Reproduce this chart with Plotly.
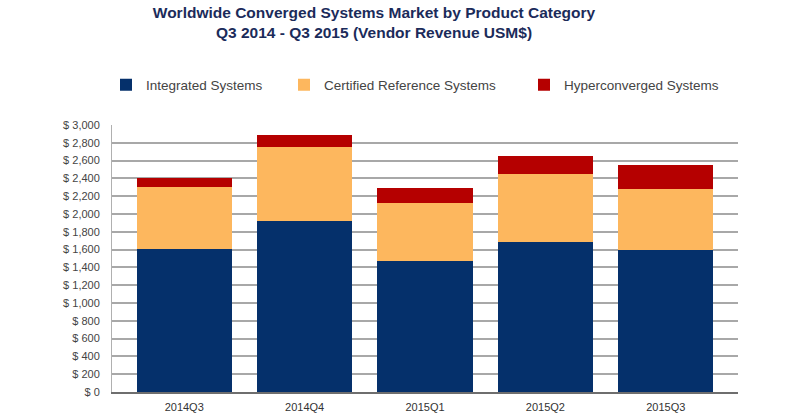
import plotly.graph_objects as go

quarters = ["2014Q3", "2014Q4", "2015Q1", "2015Q2", "2015Q3"]
integrated = [1611, 1918, 1472, 1685, 1592]
certified = [692, 831, 656, 769, 689]
hyper = [106, 135, 161, 194, 274]
series_names = ["Integrated Systems", "Certified Reference Systems", "Hyperconverged Systems"]
colors = ["#05306b", "#fdb75e", "#b50000"]
y_ticks = list(range(0, 3001, 200))
y_tick_text = ["$ " + f"{v:,}" for v in y_ticks]

W, H = 800, 417
FONT = "Liberation Sans, Arial, sans-serif"

fig = go.Figure()
legend_ids = ["legend", "legend2", "legend3"]
for vals, name, col, lg in zip([integrated, certified, hyper], series_names, colors, legend_ids):
    fig.add_trace(go.Bar(x=quarters, y=vals, name=name, marker=dict(color=col, line=dict(width=0)),
                         legend=lg, showlegend=True))

legend_x = [106, 284, 524]
leg_common = dict(orientation="h", xref="container", yref="container", yanchor="middle",
                  xanchor="left", y=1 - 85 / H, font=dict(family=FONT, size=13.5, color="#444444"),
                  bgcolor="rgba(0,0,0,0)", borderwidth=0)

fig.update_layout(
    width=W, height=H,
    showlegend=True,
    margin=dict(l=112, r=62, t=125, b=25, autoexpand=False),
    paper_bgcolor="white", plot_bgcolor="white",
    barmode="stack", bargap=0.21,
    title=dict(text="Worldwide Converged Systems Market by Product Category<br>Q3 2014 - Q3 2015 (Vendor Revenue USM$)",
               x=374 / W, xanchor="center", xref="container", yref="container",
               y=1 - 18 / H, yanchor="middle",
               font=dict(family=FONT, size=15.5, color="#1b2b5a", weight="bold")),
    legend=dict(x=legend_x[0] / W, **leg_common),
    legend2=dict(x=legend_x[1] / W, **leg_common),
    legend3=dict(x=legend_x[2] / W, **leg_common),
    xaxis=dict(range=[-0.6, 4.6], showgrid=False, showline=True, linecolor="#6e6e6e", linewidth=2,
               tickfont=dict(family=FONT, size=11, color="#333333"), ticks="", ticklabelstandoff=4),
    yaxis=dict(range=[0, 3000], tickmode="array", tickvals=y_ticks, ticktext=y_tick_text,
               showgrid=True, gridcolor="#a8a8a8", gridwidth=1.5,
               showline=True, linecolor="#b0b0b0", linewidth=1,
               zeroline=False, ticks="", ticklabelstandoff=9,
               tickfont=dict(family=FONT, size=11, color="#444444")),
)

fig.write_html("out.html", config={"displayModeBar": False},
               post_script="document.body.style.margin='0';")
